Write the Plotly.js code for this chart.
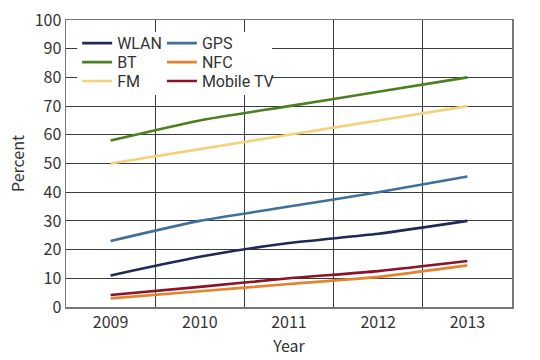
<!DOCTYPE html>
<html><head><meta charset="utf-8">
<script src="https://cdn.plot.ly/plotly-3.0.1.min.js"></script>
<style>html,body{margin:0;padding:0;background:#fff}#c{width:540px;height:360px}</style>
</head><body><div id="c"></div>
<script>
const years = ['2009','2010','2011','2012','2013'];
const wlan = [11, 17.5, 22.3, 25.5, 30];
const gps = [23, 30, 35, 40, 45.5];
const bt = [58, 65, 70, 75, 80];
const nfc = [3, 5.5, 8, 10.5, 14.5];
const fm = [50, 55, 60, 65, 70];
const mobileTv = [4.2, 7, 10, 12.5, 16];
const yTicks = [0,10,20,30,40,50,60,70,80,90,100];

const font = '"Noto Sans CJK JP", "Noto Sans", sans-serif';
const txt = '#333333';
function tr(name, y, color, legend){
  return {x: years, y: y, name: name, type:'scatter', mode:'lines',
    line:{color: color, width: 2.6, shape:'spline', smoothing:0.6}, legend: legend};
}
const data = [
  tr('NFC', nfc, '#e5822f', 'legend5'),
  tr('Mobile TV', mobileTv, '#8c1228', 'legend6'),
  tr('FM', fm, '#f3d27a', 'legend3'),
  tr('GPS', gps, '#3f6f9b', 'legend4'),
  tr('WLAN', wlan, '#1e2a55', 'legend'),
  tr('BT', bt, '#4b7f1f', 'legend2'),
];
function lg(x, y){
  return {x: x, y: y, xanchor: 'left', yanchor: 'middle',
    bgcolor: 'rgba(0,0,0,0)', borderwidth: 0,
    font: {family: 'Roboto, "Noto Sans", sans-serif', size: 16, color: txt},
    itemwidth: 30};
}
const layout = {
  width: 540, height: 360,
  margin: {l: 66, r: 28, t: 20, b: 53},
  paper_bgcolor: '#fff', plot_bgcolor: '#fff',
  font: {family: font, size: 16, color: txt},
  showlegend: true,
  xaxis: {type: 'category', tickson: 'boundaries', range: [-0.5, 4.5],
    showgrid: true, gridcolor: '#3c3c3c', gridwidth: 1,
    showline: true, linecolor: '#777', linewidth: 1.5, mirror: true,
    ticks: '', tickfont: {size: 16}, zeroline: false,
    title: {text: 'Year', font: {size: 16}, standoff: 8}},
  yaxis: {range: [0, 100], tickvals: yTicks, ticktext: yTicks.map(String),
    showgrid: true, gridcolor: '#3c3c3c', gridwidth: 1,
    showline: true, linecolor: '#777', linewidth: 1.5, mirror: true,
    ticks: '', tickfont: {size: 16}, zeroline: false,
    title: {text: 'Percent', font: {size: 16}, standoff: 6}},
  shapes: [{type: 'rect', xref: 'paper', yref: 'paper', layer: 'above',
    x0: 0.025, x1: 0.462, y0: 0.739, y1: 0.958,
    fillcolor: '#ffffff', line: {width: 0}}],
  legend: lg(0.025, 0.919),
  legend2: lg(0.025, 0.853),
  legend3: lg(0.025, 0.787),
  legend4: lg(0.215, 0.919),
  legend5: lg(0.215, 0.853),
  legend6: lg(0.215, 0.787)
};
Plotly.newPlot('c', data, layout, {displayModeBar: false, staticPlot: true});
</script></body></html>
